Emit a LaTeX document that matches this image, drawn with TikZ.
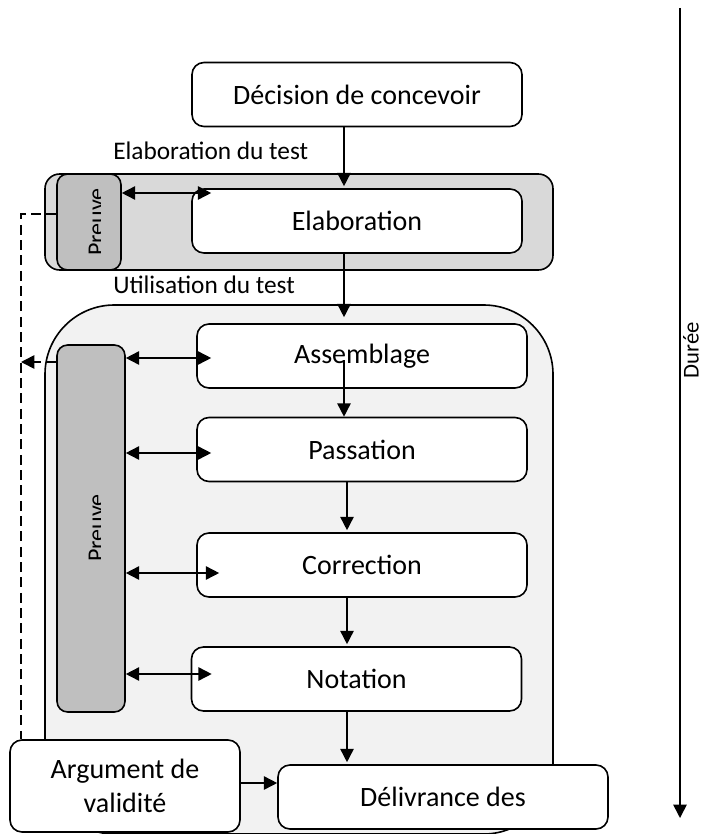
\documentclass[tikz,border=0pt]{standalone}
\usepackage{fontspec}
\setmainfont{Carlito}
\usetikzlibrary{arrows.meta,calc}

\definecolor{grisclair}{HTML}{F2F2F2}
\definecolor{grismoyen}{HTML}{D9D9D9}
\definecolor{grisfonce}{HTML}{BFBFBF}

\tikzset{
  etape/.style={draw, line width=1.2pt, fill=white, rounded corners=9pt,
    minimum width=247.5pt, minimum height=48pt, inner sep=0pt,
    font=\fontsize{21}{26}\selectfont},
  zone/.style={draw, line width=1.2pt, inner sep=0pt},
  preuve/.style={zone, fill=grisfonce, rounded corners=8pt},
  etiquette/.style={inner sep=0pt, font=\fontsize{19}{23}\selectfont},
  fleche/.style={line width=1.2pt, -{Triangle[length=10pt,width=10pt]}},
  liaison/.style={line width=1.2pt,
    {Triangle[length=10pt,width=10pt]}-{Triangle[length=10pt,width=10pt]}},
  tirets/.style={line width=1.2pt, dash pattern=on 7.5pt off 4pt}
}

\begin{document}
\begin{tikzpicture}[x=0.75pt,y=-0.75pt]
  \useasboundingbox (0,0) rectangle (706,834);

  \draw[zone, fill=grisclair, rounded corners=52pt] (45,305) rectangle (553,834);
  \node[zone, fill=grismoyen, rounded corners=11pt, minimum width=381pt,
    minimum height=72pt] (zelab) at (299,222) {};
  \node[preuve, minimum width=48pt, minimum height=72pt] (pv1) at (89,222) {};
  \node[preuve, minimum width=51pt, minimum height=275.25pt] (pv2) at (91,528.5) {};
  \begin{scope}
    \clip (60,174) rectangle (100,270);
    \node[etiquette, font=\fontsize{18}{22}\selectfont, rotate=90, anchor=base]
      (tpv1) at (104,222) {Preuve};
  \end{scope}
  \begin{scope}
    \clip (60,345) rectangle (100,712);
    \node[etiquette, font=\fontsize{18}{22}\selectfont, rotate=90, anchor=base]
      (tpv2) at (104,528) {Preuve};
  \end{scope}

  \node[etape] (deci) at (357,94.5) {Décision de concevoir};
  \node[etape] (ela) at (357,221) {Elaboration};
  \node[etape] (assem) at (362,356) {Assemblage};
  \node[etape] (pass) at (362,449.5) {Passation};
  \node[etape] (corr) at (362,565) {Correction};
  \node[etape] (nota) at (356.5,679) {Notation};
  \node[etape] (deli) at (443,797) {Délivrance des};
  \node[etape, minimum width=172.5pt, minimum height=69pt, align=center]
    (argu) at (125,786) {Argument de\\validité};

  \node[etiquette, anchor=base west] (lelab) at (113,160) {Elaboration du test};
  \node[etiquette, anchor=base west] (lutil) at (113,293) {Utilisation du test};

  \coordinate (axe1) at (344,0);
  \coordinate (axe2) at (347,0);
  \draw[fleche] (deci.south -| axe1) -- ($(ela.north -| axe1)+(0,-2)$);
  \draw[fleche] (ela.south -| axe1) -- ($(assem.north -| axe1)+(0,-6)$);
  \draw[fleche] ($(assem.center -| axe1)+(0,4)$) -- (pass.north -| axe1);
  \draw[fleche] (pass.south -| axe2) -- ($(corr.north -| axe2)+(0,-2)$);
  \draw[fleche] (corr.south -| axe2) -- ($(nota.north -| axe2)+(0,-2)$);
  \draw[fleche] (nota.south -| axe2) -- ($(deli.north -| axe2)+(0,-2)$);
  \draw[fleche] (argu.east |- 0,783) -- (deli.west |- 0,783);

  \draw[liaison] (pv1.east |- 0,193) -- ($(ela.west |- 0,193)+(20,0)$);
  \draw[liaison] (pv2.east |- 0,358) -- ($(assem.west |- 0,358)+(15,0)$);
  \draw[liaison] (pv2.east |- 0,453) -- ($(pass.west |- 0,453)+(15,0)$);
  \draw[liaison] (pv2.east |- 0,573) -- ($(corr.west |- 0,573)+(23,0)$);
  \draw[liaison] (pv2.east |- 0,674) -- ($(nota.west |- 0,674)+(21,0)$);

  \coordinate (retour) at (21,214);
  \draw[tirets] (pv1.west |- retour) -- (retour) -- (argu.north -| retour);
  \draw[tirets, -{Triangle[length=10pt,width=10pt]}] (pv2.west |- 0,362) -- (retour |- 0,362);

  \coordinate (dhaut) at (680,8);
  \coordinate (dbas) at (680,818);
  \draw[fleche] (dhaut) -- (dbas);
  \node[etiquette, font=\fontsize{17}{21}\selectfont, rotate=90] (lduree) at (691,350) {Durée};
\end{tikzpicture}
\end{document}
